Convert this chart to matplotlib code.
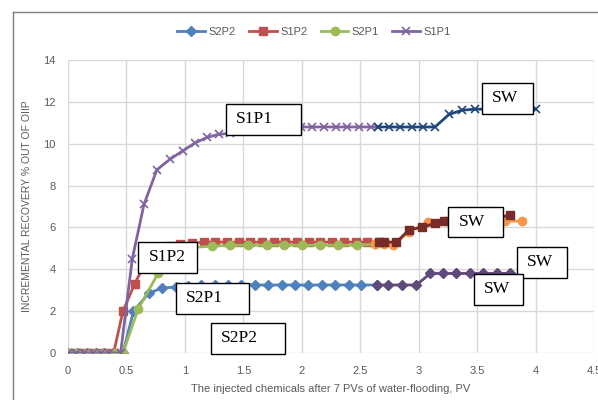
import matplotlib.pyplot as plt
from matplotlib.patches import Rectangle
from matplotlib.lines import Line2D

# ---- data ----
s2p2_x = [0, 0.08, 0.16, 0.24, 0.31, 0.39, 0.47, 0.56, 0.69, 0.80, 0.92, 1.03, 1.14,
          1.26, 1.37, 1.48, 1.60, 1.71, 1.83, 1.94, 2.05, 2.17, 2.28, 2.40, 2.51, 2.64]
s2p2_y = [0, 0, 0, 0, 0, 0, 0, 2.0, 2.85, 3.1, 3.15, 3.2, 3.25,
          3.25, 3.25, 3.25, 3.25, 3.25, 3.25, 3.25, 3.25, 3.25, 3.25, 3.25, 3.25, 3.25]

s1p2_x = [0, 0.06, 0.13, 0.19, 0.26, 0.32, 0.39, 0.47, 0.57, 0.66, 0.76, 0.86, 0.96,
          1.06, 1.16, 1.26, 1.36, 1.46, 1.56, 1.66, 1.76, 1.86, 1.96, 2.06, 2.16,
          2.26, 2.36, 2.46, 2.56, 2.66]
s1p2_y = [0, 0, 0, 0, 0, 0, 0, 2.0, 3.3, 4.3, 4.9, 5.1, 5.2,
          5.25, 5.3, 5.3, 5.3, 5.3, 5.3, 5.3, 5.3, 5.3, 5.3, 5.3, 5.3,
          5.3, 5.3, 5.3, 5.3, 5.3]

s2p1_x = [0, 0.08, 0.16, 0.24, 0.31, 0.39, 0.47, 0.60, 0.77, 0.92, 1.07, 1.23, 1.39,
          1.54, 1.70, 1.85, 2.00, 2.16, 2.31, 2.47, 2.63]
s2p1_y = [0, 0, 0, 0, 0, 0, 0, 2.1, 3.8, 4.9, 5.05, 5.1, 5.15,
          5.15, 5.15, 5.15, 5.15, 5.15, 5.15, 5.15, 5.2]

s1p1_x = [0, 0.07, 0.14, 0.21, 0.28, 0.35, 0.45, 0.55, 0.65, 0.76, 0.87, 0.98, 1.09,
          1.19, 1.29, 1.39, 1.49, 1.59, 1.69, 1.79, 1.89, 1.99, 2.09, 2.19, 2.29,
          2.39, 2.49, 2.59, 2.65]
s1p1_y = [0, 0, 0, 0, 0, 0, 0, 4.5, 7.1, 8.75, 9.25, 9.65, 10.05,
          10.3, 10.45, 10.5, 10.6, 10.7, 10.75, 10.8, 10.8, 10.8, 10.8, 10.8, 10.8,
          10.8, 10.8, 10.8, 10.8]

# SW (water) stages after the chemicals, not in the legend
sw_s2p2_x = [2.64, 2.74, 2.86, 2.98, 3.10, 3.21, 3.32, 3.44, 3.55, 3.67, 3.78]
sw_s2p2_y = [3.25, 3.25, 3.25, 3.25, 3.8, 3.8, 3.8, 3.8, 3.8, 3.8, 3.8]

sw_s1p2_x = [2.66, 2.70, 2.81, 2.92, 3.03, 3.14, 3.22, 3.33, 3.44, 3.56, 3.67, 3.78]
sw_s1p2_y = [5.3, 5.3, 5.3, 5.9, 6.0, 6.2, 6.3, 6.35, 6.4, 6.4, 6.45, 6.6]

sw_s2p1_x = [2.63, 2.70, 2.78, 2.92, 3.08, 3.23, 3.40, 3.56, 3.74, 3.88]
sw_s2p1_y = [5.2, 5.2, 5.15, 5.8, 6.25, 6.3, 6.3, 6.3, 6.3, 6.3]

sw_s1p1_x = [2.65, 2.75, 2.84, 2.94, 3.04, 3.14, 3.26, 3.37, 3.48, 3.60, 3.70, 3.80, 3.90, 4.00]
sw_s1p1_y = [10.8, 10.8, 10.8, 10.8, 10.8, 10.8, 11.4, 11.6, 11.65, 11.65, 11.65, 11.65, 11.65, 11.65]

# tekstbokser: (tekst, x0, x1, y0, y1) i dataenheter
boxes = [
    ("S1P1", 1.35, 1.99, 10.43, 11.91),
    ("SW", 3.54, 3.98, 11.44, 12.92),
    ("S1P2", 0.60, 1.10, 3.83, 5.31),
    ("S2P1", 0.92, 1.55, 1.87, 3.35),
    ("S2P2", 1.22, 1.86, -0.05, 1.44),
    ("SW", 3.25, 3.72, 5.55, 6.99),
    ("SW", 3.84, 4.27, 3.59, 5.07),
    ("SW", 3.47, 3.89, 2.30, 3.78),
]

grey = "#595959"
plt.rcParams["font.family"] = ["Liberation Sans", "DejaVu Sans"]

fig = plt.figure(figsize=(5.98, 4.0), dpi=100)
ax = fig.add_axes([68/598, 47/400, 526/598, 293/400])

ax.plot(s2p2_x, s2p2_y, color="#4F81BD", lw=2, marker="D", ms=5, label="S2P2")
ax.plot(s1p2_x, s1p2_y, color="#C0504D", lw=2, marker="s", ms=6, label="S1P2")
ax.plot(s2p1_x, s2p1_y, color="#9BBB59", lw=2, marker="o", ms=6, label="S2P1")
ax.plot(s1p1_x, s1p1_y, color="#8064A2", lw=2, marker="x", ms=6, mew=1.2, label="S1P1")

ax.plot(sw_s2p1_x, sw_s2p1_y, color="#F79646", lw=2, marker="o", ms=6)
ax.plot(sw_s1p2_x, sw_s1p2_y, color="#772C2A", lw=2, marker="s", ms=6)
ax.plot(sw_s2p2_x, sw_s2p2_y, color="#5F497A", lw=2, marker="D", ms=5)
ax.plot(sw_s1p1_x, sw_s1p1_y, color="#1F497D", lw=2, marker="x", ms=6, mew=1.2)

ax.set_xlim(0, 4.5)
ax.set_ylim(0, 14)
ax.set_xticks([0, 0.5, 1, 1.5, 2, 2.5, 3, 3.5, 4, 4.5])
ax.set_xticklabels(["0", "0.5", "1", "1.5", "2", "2.5", "3", "3.5", "4", "4.5"])
ax.set_yticks([0, 2, 4, 6, 8, 10, 12, 14])
ax.grid(True, color="#d9d9d9", lw=1)
ax.set_axisbelow(True)
for s in ax.spines.values():
    s.set_visible(False)
ax.tick_params(length=0, pad=9, labelsize=8, labelcolor=grey)
ax.set_xlabel("The injected chemicals after 7 PVs of water-flooding, PV", fontsize=8, color=grey, labelpad=6)
ax.set_ylabel("INCREMENTAL RECOVERY % OUT OF OIIP", fontsize=7.5, color=grey, labelpad=8)

# tekstboksene oppå kurvene
for tekst, x0, x1, y0, y1 in boxes:
    ax.add_patch(Rectangle((x0, y0), x1 - x0, y1 - y0, facecolor="white", edgecolor="black",
                           lw=1, zorder=5, clip_on=False))
    ax.text(x0 + 0.09, (y0 + y1) / 2, tekst, fontsize=12.5, family="Liberation Serif",
            ha="left", va="center", zorder=6, clip_on=False)

fig.legend(loc="center", bbox_to_anchor=(0.525, 0.92), ncol=4, frameon=False,
           fontsize=8, labelcolor=grey, handlelength=2.5, columnspacing=1.2, handletextpad=0.3)

# rammen rundt diagrammet
fig.add_artist(Line2D([13/598, 1], [1 - 12/400, 1 - 12/400], color="#7f7f7f", lw=1))
fig.add_artist(Line2D([13/598, 13/598], [0, 1 - 12/400], color="#7f7f7f", lw=1))

fig.savefig("out.png", dpi=100)
